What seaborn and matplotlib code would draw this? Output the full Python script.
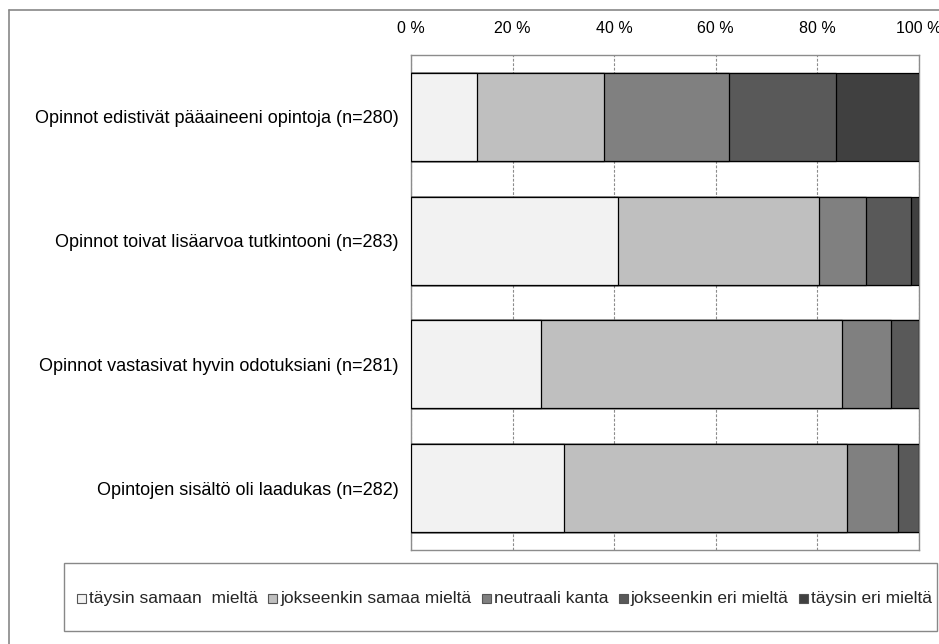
import numpy as np
import pandas as pd
import matplotlib
matplotlib.use("Agg")
import matplotlib.pyplot as plt
from matplotlib.patches import Rectangle
from matplotlib.lines import Line2D
import seaborn as sns

# data (% of respondents)
statements = [
    "Opinnot edistivät pääaineeni opintoja (n=280)",
    "Opinnot toivat lisäarvoa tutkintooni (n=283)",
    "Opinnot vastasivat hyvin odotuksiani (n=281)",
    "Opintojen sisältö oli laadukas (n=282)",
]
answers = ["täysin samaan  mieltä", "jokseenkin samaa mieltä", "neutraali kanta",
           "jokseenkin eri mieltä", "täysin eri mieltä"]
taysin_samaa = [13.0, 40.7, 25.5, 30.2]
jokseenkin_samaa = [24.9, 39.6, 59.4, 55.7]
neutraali = [24.6, 9.2, 9.5, 9.9]
jokseenkin_eri = [21.1, 9.0, 5.6, 4.2]
taysin_eri = [16.4, 1.5, 0.0, 0.0]
colors = ["#f2f2f2", "#bfbfbf", "#808080", "#595959", "#404040"]

df = pd.DataFrame({
    "statement": statements,
    answers[0]: taysin_samaa,
    answers[1]: jokseenkin_samaa,
    answers[2]: neutraali,
    answers[3]: jokseenkin_eri,
    answers[4]: taysin_eri,
})
cum = df[answers].cumsum(axis=1)

sns.set_theme(style="white")
plt.rcParams["font.family"] = ["Liberation Sans", "DejaVu Sans"]

W, H = 939, 644
fig = plt.figure(figsize=(W / 100, H / 100), dpi=100)
ax = fig.add_axes([411 / W, 1 - 550 / H, (919 - 411) / W, (550 - 55) / H])

# stacked bars: draw cumulative totals from the last segment to the first
for ans, col in zip(answers[::-1], colors[::-1]):
    sns.barplot(x=cum[ans], y=df["statement"], orient="h", color=col, width=0.71,
                edgecolor="black", linewidth=0.9, saturation=1, ax=ax, zorder=3)

ax.set_xlim(0, 100)
ax.set_xticks([0, 20, 40, 60, 80, 100])
ax.set_xticklabels(["0 %", "20 %", "40 %", "60 %", "80 %", "100 %"])
ax.xaxis.tick_top()
ax.tick_params(axis="x", length=0, pad=14, labelsize=11.5, colors="black")
ax.tick_params(axis="y", length=0, pad=9, labelsize=13, colors="black")
ax.set_xlabel("")
ax.set_ylabel("")
ax.grid(axis="x", color="#8c8c8c", linestyle=(0, (2.5, 1.5)), linewidth=0.8, zorder=0)
ax.set_axisbelow(True)
for s in ax.spines.values():
    s.set_color("#8c8c8c")
    s.set_linewidth(1)

# outer chart border (top and left visible in the crop)
fig.add_artist(Line2D([9 / W, 1], [1 - 10 / H] * 2, transform=fig.transFigure, color="#888888", lw=1.2))
fig.add_artist(Line2D([9 / W] * 2, [0, 1 - 10 / H], transform=fig.transFigure, color="#888888", lw=1.2))

# legend box, entries laid out on one shared baseline
fig.add_artist(Rectangle((64 / W, 1 - 631 / H), (937 - 64) / W, (631 - 563) / H,
                         transform=fig.transFigure, fill=False, edgecolor="#888888", lw=1))
renderer = fig.canvas.get_renderer()
texts = [fig.text(0, 1 - 603 / H, a, fontsize=12.5, va="baseline", ha="left") for a in answers]
widths = [t.get_window_extent(renderer).width for t in texts]
box, tgap = 9, 3
x_start, x_end = 77, 932
gap = (x_end - x_start - sum(widths) - len(answers) * (box + tgap)) / (len(answers) - 1)
x = x_start
for t, w, c in zip(texts, widths, colors):
    fig.add_artist(Rectangle((x / W, 1 - 603 / H), box / W, box / H, transform=fig.transFigure,
                             facecolor=c, edgecolor="#555555", lw=0.8))
    t.set_x((x + box + tgap) / W)
    x += box + tgap + w + gap

fig.savefig("out.png", dpi=100, facecolor="white")
